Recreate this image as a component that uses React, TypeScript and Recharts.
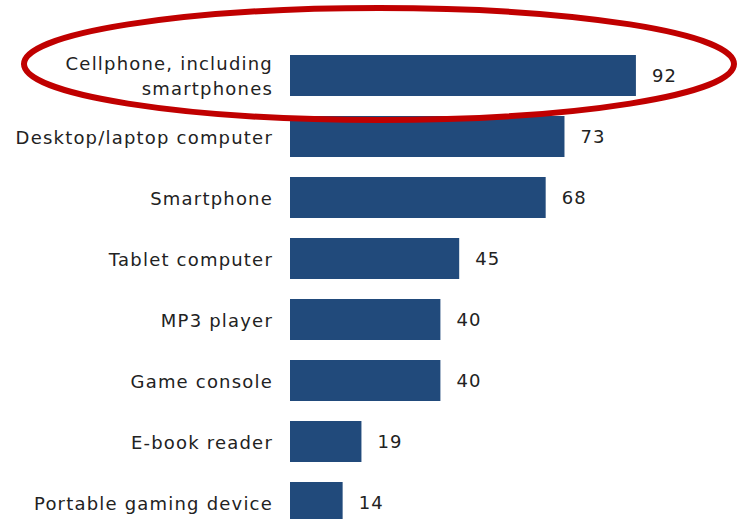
import React from 'react';
import { BarChart, Bar, XAxis, YAxis, LabelList } from 'recharts';

const devices = [
  'Cellphone, including\nsmartphones',
  'Desktop/laptop computer',
  'Smartphone',
  'Tablet computer',
  'MP3 player',
  'Game console',
  'E-book reader',
  'Portable gaming device',
];
const shares = [92, 73, 68, 45, 40, 40, 19, 14];

const data = devices.map((name, i) => ({ name, value: shares[i] }));

const FONT = '"DejaVu Sans", sans-serif';

const DeviceTick = (props: any) => {
  const { x, y, payload } = props;
  const lines: string[] = String(payload.value).split('\n');
  const lineHeight = 25;
  const startY = y + 1 - ((lines.length - 1) * lineHeight) / 2;
  return (
    <text
      x={x}
      y={startY}
      textAnchor="end"
      fill="#222"
      fontSize={18}
      letterSpacing={1.2}
      fontFamily={FONT}
    >
      {lines.map((line, i) => (
        <tspan key={i} x={x} y={startY + i * lineHeight} dy="0.35em">
          {line}
        </tspan>
      ))}
    </text>
  );
};

export default function App() {
  return (
    <div style={{ position: 'absolute', left: 0, top: 0, width: 737, height: 519, overflow: 'hidden', background: '#fff' }}>
      <BarChart
        width={737}
        height={540}
        data={data}
        layout="vertical"
        margin={{ top: 45, right: 71, bottom: 7, left: 0 }}
      >
        <XAxis type="number" domain={[0, 100]} hide />
        <YAxis
          type="category"
          dataKey="name"
          width={290}
          axisLine={false}
          tickLine={false}
          tickMargin={11}
          tick={<DeviceTick />}
          interval={0}
        />
        <Bar dataKey="value" fill="#214a7b" barSize={41} isAnimationActive={false}>
          <LabelList
            dataKey="value"
            position="right"
            offset={16}
            fill="#222"
            fontSize={18}
            letterSpacing={1.2}
            fontFamily={FONT}
          />
        </Bar>
      </BarChart>
      <svg
        width={737}
        height={519}
        style={{ position: 'absolute', left: 0, top: 0, pointerEvents: 'none' }}
      >
        <ellipse cx={379} cy={64} rx={355} ry={56} fill="none" stroke="#c00000" strokeWidth={6} />
      </svg>
    </div>
  );
}
